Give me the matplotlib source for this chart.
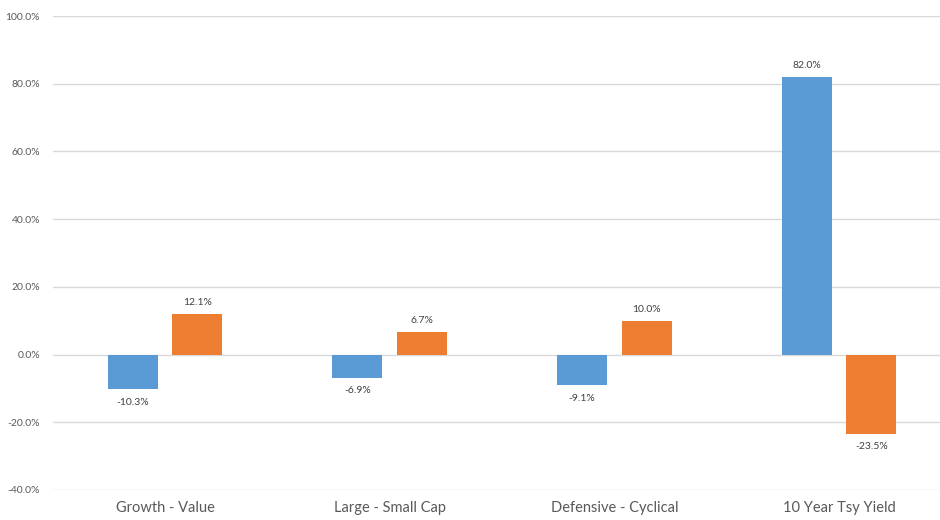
import numpy as np
import matplotlib.pyplot as plt

categories = ["Growth - Value", "Large - Small Cap", "Defensive - Cyclical", "10 Year Tsy Yield"]
series_a = [-10.3, -6.9, -9.1, 82.0]
series_b = [12.1, 6.7, 10.0, -23.5]
yticks = [-40, -20, 0, 20, 40, 60, 80, 100]

plt.rcParams["font.family"] = ["Lato", "DejaVu Sans"]

fig = plt.figure(figsize=(9.4, 5.2), dpi=100)
# plot area runs a little past the right edge, as in the original crop
ax = fig.add_axes([0.056, 0.0577, 0.956, 0.9115])

x = np.arange(len(categories))
w = 0.222
off = 0.144
bars_a = ax.bar(x - off, series_a, w, color="#5B9BD5", zorder=3)
bars_b = ax.bar(x + off, series_b, w, color="#ED7D31", zorder=3)

for bars in (bars_a, bars_b):
    for b in bars:
        v = b.get_height()
        cx = b.get_x() + b.get_width() / 2
        if v >= 0:
            ax.annotate("{:.1f}%".format(v), (cx, v), xytext=(0, 5), textcoords="offset points",
                        ha="center", va="bottom", fontsize=7.5, color="#404040")
        else:
            ax.annotate("{:.1f}%".format(v), (cx, v), xytext=(0, -6), textcoords="offset points",
                        ha="center", va="top", fontsize=7.5, color="#404040")

ax.set_xlim(-0.5, len(categories) - 0.5)
ax.set_ylim(-40, 100)
ax.set_yticks(yticks)
ax.set_yticklabels(["{:.1f}%".format(t) for t in yticks], fontsize=7.5, color="#595959")
ax.set_xticks(x)
ax.set_xticklabels(categories, fontsize=10.5, color="#595959")
ax.tick_params(axis="both", length=0)
ax.tick_params(axis="x", pad=8)
ax.tick_params(axis="y", pad=9)
ax.grid(axis="y", color="#D9D9D9", linewidth=1, zorder=0)
for s in ax.spines.values():
    s.set_visible(False)

fig.savefig("out.png", dpi=100)
